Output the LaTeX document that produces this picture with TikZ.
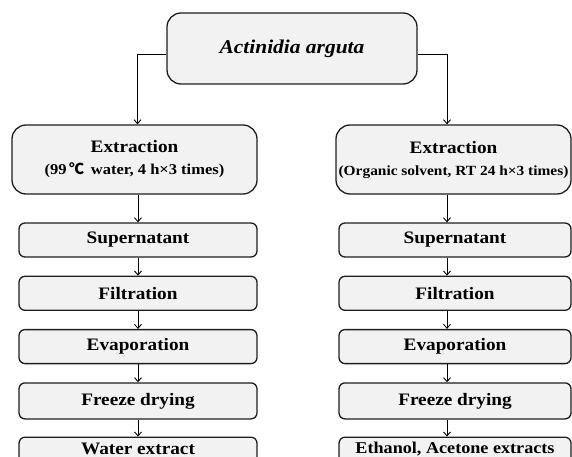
\documentclass[tikz,border=0pt]{standalone}
\usepackage{fontspec}
\setmainfont{Liberation Serif}[FakeStretch=1.1]
\newfontfamily\cjk{Noto Sans CJK SC}
\usetikzlibrary{arrows.meta,positioning}
\definecolor{grisfondo}{RGB}{242,242,242}
\definecolor{grisborde}{RGB}{30,30,30}

\begin{document}
\begin{tikzpicture}[
  x=1pt, y=-1pt,
  every node/.style={font=\bfseries\fontsize{17.5}{21}\selectfont},
  raiz/.style={
    rectangle, rounded corners=14pt,
    draw=grisborde, line width=1.3pt,
    fill=grisfondo, inner sep=0pt,
    minimum width=250pt, minimum height=71pt,
    font=\bfseries\itshape\fontsize{19.5}{23}\selectfont},
  extrac/.style={
    rectangle, rounded corners=14pt,
    draw=grisborde, line width=1.3pt,
    fill=grisfondo, inner sep=0pt,
    align=center, minimum height=69pt},
  pasoA/.style={
    rectangle, rounded corners=6pt,
    draw=grisborde, line width=1.3pt,
    fill=grisfondo, inner sep=0pt,
    minimum width=238pt, minimum height=34pt},
  pasoB/.style={pasoA, minimum width=232pt},
  ultimo/.style={minimum height=32pt, text depth=9pt},
  flecha/.style={
    draw=black, line width=0.9pt,
    -{Straight Barb[length=4pt,width=7pt]}},
  node distance=18pt
]
  \useasboundingbox (0,0) rectangle (572,457);
  \clip (0,0) rectangle (572,457);

  %% ── Nodos ─────────────────────────────────────────────────
  \node[raiz] (actin) at (292,48.5) {Actinidia arguta};

  \node[extrac, minimum width=245pt] (extA) at (134.5,159.5) {
    Extraction\\[1pt]
    {\fontsize{15}{17}\selectfont (99{\cjk\,℃}\, water, 4 h×3 times)}};

  \node[extrac, minimum width=235pt] (extB) at (453.5,159.5) {
    Extraction\\[1pt]
    {\fontsize{14}{17}\selectfont (Organic solvent, RT 24 h×3 times)}};

  %% ── Columna agua ──────────────────────────────────────────
  \node[pasoA] (supA) at (138,240) {Supernatant};
  \node[pasoA, below=of supA] (filA) {Filtration};
  \node[pasoA, below=of filA] (evaA) {Evaporation};
  \node[pasoA, below=of evaA, minimum height=36pt] (freA) {Freeze drying};
  \node[pasoA, ultimo, below=17pt of freA] (finA) {Water extract};

  %% ── Columna solvente ──────────────────────────────────────
  \node[pasoB] (supB) at (455,240) {Supernatant};
  \node[pasoB, below=of supB] (filB) {Filtration};
  \node[pasoB, below=of filB] (evaB) {Evaporation};
  \node[pasoB, below=of evaB, minimum height=36pt] (freB) {Freeze drying};
  \node[pasoB, ultimo, text depth=11pt, below=17pt of freB,
        font=\bfseries\fontsize{16.5}{20}\selectfont] (finB) {Ethanol, Acetone extracts};

  %% ── Flechas desde la muestra ──────────────────────────────
  \draw[flecha] ([yshift=-5.5pt]actin.west) -| ([xshift=3pt]extA.north);
  \draw[flecha] ([yshift=-5.5pt]actin.east) -| ([xshift=-6.5pt]extB.north);

  %% ── Flechas columna agua ──────────────────────────────────
  \draw[flecha] (supA.north |- extA.south) -- (supA.north);
  \draw[flecha] (supA) -- (filA);
  \draw[flecha] (filA) -- (evaA);
  \draw[flecha] (evaA) -- (freA);
  \draw[flecha] (freA) -- (finA);

  %% ── Flechas columna solvente ──────────────────────────────
  \draw[flecha] ([xshift=-8pt]supB.north |- extB.south) -- ([xshift=-8pt]supB.north);
  \draw[flecha] ([xshift=-8pt]supB.south) -- ([xshift=-8pt]filB.north);
  \draw[flecha] ([xshift=-8pt]filB.south) -- ([xshift=-8pt]evaB.north);
  \draw[flecha] ([xshift=-8pt]evaB.south) -- ([xshift=-8pt]freB.north);
  \draw[flecha] ([xshift=-8pt]freB.south) -- ([xshift=-8pt]finB.north);

\end{tikzpicture}
\end{document}
